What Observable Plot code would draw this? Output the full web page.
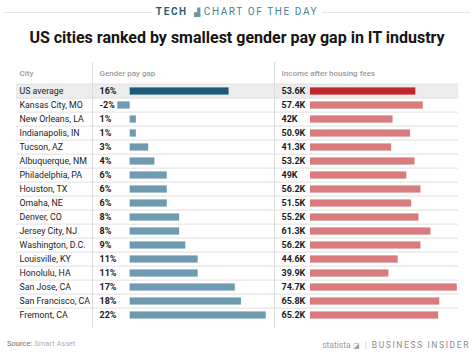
<!DOCTYPE html>
<html><head><meta charset="utf-8">
<script src="https://cdn.jsdelivr.net/npm/d3@7"></script>
<script src="https://cdn.jsdelivr.net/npm/@observablehq/plot@0.6"></script>
<style>
body{margin:0;background:#fff;font-family:Roboto,"Noto Sans",sans-serif;}
#root{position:relative;width:474px;height:355px;overflow:hidden;background:#fff;}
.abs{position:absolute;}
#kicker{left:0;top:5px;width:474px;height:14px;display:flex;align-items:center;}
#kicker .ln{flex:1;height:1px;background:#e6e6e6;margin:0 4px;}
#kicker .tx{font-size:10px;letter-spacing:1.6px;color:#4d7f93;white-space:nowrap;line-height:14px;}
#kicker b{color:#2b5d72;font-weight:700;}
#kicker .ic{font-size:8px;color:#6f95a4;letter-spacing:0;margin:0 4px 0 2px;}
#title{left:0;top:27px;width:474px;text-align:center;font-size:16px;font-weight:700;color:#151515;line-height:22px;}
.vdiv{top:62px;height:266px;width:0;border-left:1px solid #dcdcdc;}
#source{left:7px;top:339px;font-size:7.5px;color:#b0b0b0;line-height:10px;}
#source b{color:#8a8a8a;font-weight:500;}
#brand{right:4px;top:339px;font-size:8.5px;color:#9a9a9a;line-height:12px;white-space:nowrap;}
#brand .bi{letter-spacing:1.6px;color:#8c8c8c;}
#brand .sep{color:#c8c8c8;margin:0 5px;}
</style></head>
<body><div id="root">
<div id="kicker" class="abs"><div class="ln"></div><div class="tx"><b>TECH</b> <span class="ic">▟</span>CHART OF THE DAY</div><div class="ln"></div></div>
<div id="title" class="abs">US cities ranked by smallest gender pay gap in IT industry</div>
<div id="p1" class="abs" style="left:0;top:62px"></div>
<div id="p2" class="abs" style="left:92px;top:62px"></div>
<div id="p3" class="abs" style="left:274px;top:62px"></div>
<div class="abs vdiv" style="left:92px"></div>
<div class="abs vdiv" style="left:274px"></div>
<div id="source" class="abs"><b>Source:</b> Smart Asset</div>
<div id="brand" class="abs">statista <span style="font-size:7px">◪</span><span class="sep">|</span><span class="bi">BUSINESS INSIDER</span></div>
</div>
<script>
const cities = ["US average","Kansas City, MO","New Orleans, LA","Indianapolis, IN","Tucson, AZ","Albuquerque, NM","Philadelphia, PA","Houston, TX","Omaha, NE","Denver, CO","Jersey City, NJ","Washington, D.C.","Louisville, KY","Honolulu, HA","San Jose, CA","San Francisco, CA","Fremont, CA"];
const payGap = [16,-2,1,1,3,4,6,6,6,8,8,9,11,11,17,18,22];
const income = [53.6,57.4,42,50.9,41.3,53.2,49,56.2,51.5,55.2,61.3,56.2,44.6,39.9,74.7,65.8,65.2];
const headers = ["City","Gender pay gap","Income after housing fees"];

const rows = cities.map((c,i)=>({city:c, gap:payGap[i], income:income[i], avg:i===0}));
const avgRows = rows.filter(d=>d.avg);

const H = 266, MT = 15;
const bw = (H - MT) / cities.length;
const yScale = {type:"band", domain:cities, padding:0, axis:null};
const style = {fontFamily:"Roboto, sans-serif", fontSize:"10px", background:"transparent", overflow:"visible"};
const bg = "#ececec", lineC = "#e0e0e0", hdrC = "#9b9b9b";

function common(){
  return [
    Plot.cell(avgRows, {y:"city", fill:bg}),
    Plot.ruleY(rows, {y:"city", dy:-bw/2, stroke:lineC, strokeWidth:1})
  ];
}

const p1 = Plot.plot({
  width:92, height:H, marginLeft:16, marginRight:0, marginTop:MT, marginBottom:0,
  style, y:yScale,
  marks:[
    ...common(),
    Plot.text(rows, {y:"city", text:"city", frameAnchor:"left", dx:3, textAnchor:"start", fill:"#222", fontSize:8.8}),
    Plot.text([headers[0]], {text:d=>d, frameAnchor:"top-left", dx:3, dy:-7.5, textAnchor:"start", fill:hdrC, fontSize:8, fontWeight:500})
  ]
});

const p2 = Plot.plot({
  width:182, height:H, marginLeft:0, marginRight:0, marginTop:MT, marginBottom:0,
  style, y:yScale,
  x:{domain:[-2,22], range:[25.3,173.7], axis:null},
  marks:[
    ...common(),
    Plot.barX(rows, {y:"city", x:"gap", fill:d=>d.avg?"#1c5b78":"#6e9bb0", insetTop:3.4, insetBottom:3.4}),
    Plot.text(rows, {y:"city", text:d=>d.gap+"%", frameAnchor:"left", dx:7, textAnchor:"start", fill:"#1a1a1a", fontSize:9, fontWeight:700}),
    Plot.text([headers[1]], {text:d=>d, frameAnchor:"top-left", dx:7, dy:-7.5, textAnchor:"start", fill:hdrC, fontSize:8, fontWeight:500})
  ]
});

const p3 = Plot.plot({
  width:184, height:H, marginLeft:0, marginRight:0, marginTop:MT, marginBottom:0,
  style, y:yScale,
  x:{domain:[0,74.7], range:[36,182.8], axis:null},
  marks:[
    ...common(),
    Plot.barX(rows, {y:"city", x:"income", fill:d=>d.avg?"#c0262b":"#d97b7c", insetTop:3.4, insetBottom:3.4}),
    Plot.text(rows, {y:"city", text:d=>d.income+"K", frameAnchor:"left", dx:7, textAnchor:"start", fill:"#1a1a1a", fontSize:9, fontWeight:700}),
    Plot.text([headers[2]], {text:d=>d, frameAnchor:"top-left", dx:7, dy:-7.5, textAnchor:"start", fill:hdrC, fontSize:8, fontWeight:500})
  ]
});

document.getElementById("p1").appendChild(p1);
document.getElementById("p2").appendChild(p2);
document.getElementById("p3").appendChild(p3);
</script>
</body></html>
